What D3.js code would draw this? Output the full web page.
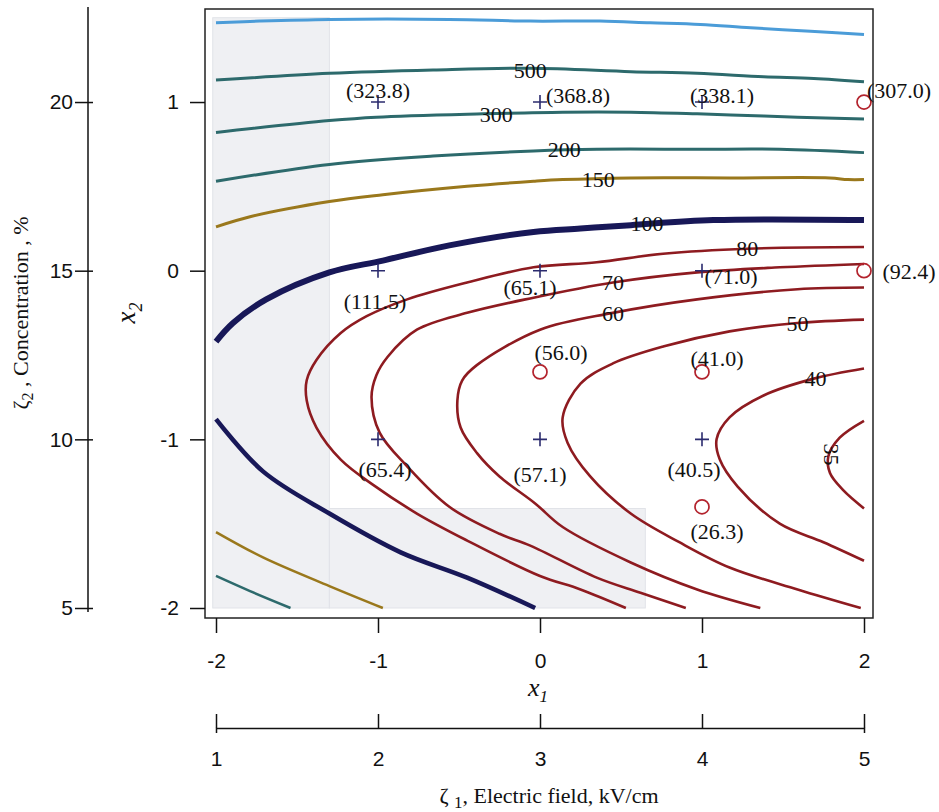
<!DOCTYPE html>
<html>
<head>
<meta charset="utf-8">
<script src="https://cdn.jsdelivr.net/npm/d3@7"></script>
<style>
body { margin: 0; background: #fff; }
svg text { font-family: "Liberation Serif", "Times New Roman", serif; fill: #111; }
</style>
</head>
<body>
<svg id="svg" width="939" height="812"></svg>
<script>
//======================================================================
//                          DATA (coded units x1, x2)
//======================================================================

// contour lines, each one a list of [x1, x2] points
var cTop  = [[-2.00,1.47],[-1.73,1.48],[-1.30,1.49],[-0.56,1.49],[-0.06,1.48],[0.37,1.48],[0.68,1.47],[0.99,1.46],[1.30,1.44],[1.67,1.42],[2.00,1.40]];
var c500  = [[-2.00,1.13],[-1.30,1.17],[-0.66,1.19],[-0.06,1.20],[0.56,1.18],[0.97,1.17],[1.38,1.15],[1.69,1.14],[2.00,1.12]];
var c300  = [[-2.00,0.82],[-1.30,0.89],[-1.01,0.91],[-0.35,0.93],[0.14,0.94],[0.56,0.94],[0.97,0.93],[1.28,0.92],[1.59,0.91],[2.00,0.90]];
var c200  = [[-2.00,0.53],[-1.30,0.63],[-0.66,0.68],[-0.04,0.71],[0.35,0.72],[0.97,0.72],[1.48,0.72],[2.00,0.70]];
var c200b = [[-2.00,-1.81],[-1.79,-1.90],[-1.54,-2.00]];
var c150  = [[-2.00,0.26],[-1.79,0.32],[-1.30,0.41],[-0.97,0.45],[-0.45,0.50],[-0.04,0.53],[0.14,0.54],[0.56,0.55],[1.17,0.55],[1.79,0.55],[1.90,0.54],[2.00,0.54]];
var c150b = [[-2.00,-1.55],[-1.71,-1.70],[-1.30,-1.87],[-0.97,-2.00]];
var c100  = [[-2.00,-0.42],[-1.895,-0.31],[-1.69,-0.17],[-1.30,-0.01],[-0.97,0.06],[-0.56,0.15],[-0.04,0.23],[0.25,0.25],[0.56,0.27],[1.07,0.30],[2.00,0.30]];
var c100b = [[-2.00,-0.88],[-1.71,-1.19],[-1.30,-1.44],[-0.86,-1.67],[-0.45,-1.82],[-0.03,-2.00]];
var c80   = [[0.53,-2.00],[0.25,-1.89],[0.00,-1.81],[-0.45,-1.60],[-0.76,-1.44],[-1.03,-1.27],[-1.23,-1.12],[-1.38,-0.93],[-1.44,-0.77],[-1.44,-0.65],[-1.38,-0.53],[-1.23,-0.37],[-1.07,-0.27],[-0.82,-0.17],[-0.45,-0.07],[-0.04,0.02],[0.35,0.05],[0.76,0.10],[1.28,0.13],[2.00,0.14]];
var c70   = [[0.90,-2.00],[0.62,-1.91],[0.35,-1.82],[-0.06,-1.63],[-0.25,-1.56],[-0.56,-1.40],[-0.82,-1.16],[-0.99,-0.96],[-1.04,-0.75],[-1.01,-0.62],[-0.94,-0.51],[-0.76,-0.35],[-0.45,-0.25],[-0.04,-0.16],[0.45,-0.07],[0.97,-0.01],[1.48,0.02],[2.00,0.04]];
var c60   = [[1.36,-2.00],[0.97,-1.89],[0.56,-1.73],[0.14,-1.52],[-0.03,-1.38],[-0.25,-1.22],[-0.39,-1.08],[-0.49,-0.93],[-0.51,-0.77],[-0.48,-0.65],[-0.39,-0.56],[0.00,-0.35],[0.45,-0.25],[0.97,-0.17],[1.59,-0.11],[2.00,-0.10]];
var c50   = [[1.98,-2.00],[1.59,-1.89],[1.17,-1.76],[0.86,-1.61],[0.56,-1.44],[0.31,-1.22],[0.17,-1.02],[0.14,-0.87],[0.25,-0.67],[0.45,-0.55],[0.76,-0.45],[1.17,-0.36],[1.59,-0.31],[2.00,-0.29]];
var c40   = [[2.00,-1.72],[1.75,-1.61],[1.48,-1.50],[1.22,-1.28],[1.11,-1.12],[1.09,-1.00],[1.17,-0.87],[1.38,-0.74],[1.69,-0.64],[2.00,-0.58]];
var c35   = [[2.00,-1.41],[1.87,-1.30],[1.79,-1.20],[1.78,-1.10],[1.85,-0.99],[2.00,-0.89]];

var contourLevels = [1000, 500, 300, 200, 200, 150, 150, 100, 100, 80, 70, 60, 50, 40, 35];
var contourLines  = [cTop, c500, c300, c200, c200b, c150, c150b, c100, c100b, c80, c70, c60, c50, c40, c35];

// contour labels
var labelText = ["500", "300", "200", "150", "100", "80", "70", "60", "50", "40", "35"];
var labelX1   = [-0.06, -0.27, 0.15, 0.36, 0.66, 1.28, 0.45, 0.45, 1.59, 1.70, 1.80];
var labelX2   = [1.19, 0.93, 0.72, 0.54, 0.28, 0.13, -0.07, -0.25, -0.31, -0.64, -1.09];

// design runs (+) and check runs (o), with measured response
var runX1 = [-1, 0, 1, -1, 0, 1, -1, 0, 1];
var runX2 = [1, 1, 1, 0, 0, 0, -1, -1, -1];
var runY  = [323.8, 368.8, 338.1, 111.5, 65.1, 71.0, 65.4, 57.1, 40.5];
var checkX1 = [2, 2, 0, 1, 1];
var checkX2 = [1, 0, -0.6, -0.6, -1.4];
var checkY  = [307.0, 92.4, 56.0, 41.0, 26.3];

// shaded regions [x1min, x1max, x2min, x2max]
var shadeRegions = [[-2.02, -1.3, -2, 1.5], [-1.3, 0.65, -2, -1.41]];

// axis ticks
var x1Ticks = [-2, -1, 0, 1, 2];
var x2Ticks = [-2, -1, 0, 1];
var zeta1Ticks = [1, 2, 3, 4, 5];
var zeta2Ticks = [5, 10, 15, 20];

//======================================================================
//                          SCALES + STYLE
//======================================================================
var svg = d3.select("#svg");
var x = d3.scaleLinear().domain([-2, 2]).range([216, 864]);
var y = d3.scaleLinear().domain([-2, 1.5]).range([608, 17.7]);
var zeta1 = d3.scaleLinear().domain([1, 5]).range([216, 864]);       // 3 + x1
var zeta2 = d3.scaleLinear().domain([5, 22.5]).range([608, 17.7]);   // 15 + 5*x2

var lineColor = function(level) {
  if (level >= 1000) return "#4b9cd8";
  if (level >= 200) return "#2d6a6c";
  if (level >= 150) return "#9a781c";
  if (level >= 100) return "#181858";
  return "#8e1b20";
};
var lineWidth = function(level, i) {
  if (level == 100) return i == 7 ? 6 : 4.5;
  if (level < 100) return 2.6;
  return (i == 4 || i == 6) ? 2.5 : 3;
};

//======================================================================
//                          DRAWING
//======================================================================
svg.append("clipPath").attr("id", "clip")
  .append("rect").attr("x", 210).attr("y", 12).attr("width", 657).attr("height", 598);

// grey shading
svg.append("g").selectAll("rect").data(shadeRegions).enter().append("rect")
  .attr("x", function(d) { return x(d[0]); })
  .attr("y", function(d) { return y(d[3]); })
  .attr("width", function(d) { return x(d[1]) - x(d[0]); })
  .attr("height", function(d) { return y(d[2]) - y(d[3]); })
  .attr("fill", "#eff0f3")
  .attr("stroke", "#e1e3e8")
  .attr("stroke-width", 1);

// contours
var line = d3.line()
  .x(function(d) { return x(d[0]); })
  .y(function(d) { return y(d[1]); })
  .curve(d3.curveCatmullRom.alpha(0.5));

svg.append("g").attr("clip-path", "url(#clip)")
  .selectAll("path").data(contourLines).enter().append("path")
  .attr("d", line)
  .attr("fill", "none")
  .attr("stroke", function(d, i) { return lineColor(contourLevels[i]); })
  .attr("stroke-width", function(d, i) { return lineWidth(contourLevels[i], i); })
  .attr("stroke-linejoin", "round");

// contour labels
svg.append("g").selectAll("text").data(labelText).enter().append("text")
  .attr("transform", function(d, i) {
    var t = "translate(" + x(labelX1[i]) + "," + y(labelX2[i]) + ")";
    return d == "35" ? t + " rotate(90)" : t;
  })
  .attr("text-anchor", "middle")
  .attr("dy", "0.35em")
  .attr("font-size", 22)
  .text(function(d) { return d; });

// run markers
var fmt = d3.format(".1f");
var runOffset = [[0,-12],[38,-7],[20,-7],[-3,31],[-10,17],[29,6],[7,30],[0,35],[-8,30]];
var checkOffset = [[35,-12],[45,1],[21,-20],[15,-14],[15,24]];

svg.append("g").selectAll("path").data(runY).enter().append("path")
  .attr("transform", function(d, i) { return "translate(" + x(runX1[i]) + "," + y(runX2[i]) + ")"; })
  .attr("d", "M-7,0H7M0,-7V7")
  .attr("stroke", "#2b2b6e")
  .attr("stroke-width", 1.6);

svg.append("g").selectAll("circle").data(checkY).enter().append("circle")
  .attr("cx", function(d, i) { return x(checkX1[i]); })
  .attr("cy", function(d, i) { return y(checkX2[i]); })
  .attr("r", 7)
  .attr("fill", "none")
  .attr("stroke", "#b3232d")
  .attr("stroke-width", 1.7);

svg.append("g").selectAll("text").data(runY).enter().append("text")
  .attr("x", function(d, i) { return x(runX1[i]) + runOffset[i][0]; })
  .attr("y", function(d, i) { return y(runX2[i]) + runOffset[i][1]; })
  .attr("dy", "0.35em")
  .attr("text-anchor", "middle")
  .attr("font-size", 22)
  .text(function(d) { return "(" + fmt(d) + ")"; });

svg.append("g").selectAll("text").data(checkY).enter().append("text")
  .attr("x", function(d, i) { return x(checkX1[i]) + checkOffset[i][0]; })
  .attr("y", function(d, i) { return y(checkX2[i]) + checkOffset[i][1]; })
  .attr("dy", "0.35em")
  .attr("text-anchor", "middle")
  .attr("font-size", 22)
  .text(function(d) { return "(" + fmt(d) + ")"; });

// frame
svg.append("rect")
  .attr("x", 205).attr("y", 9).attr("width", 668).attr("height", 609)
  .attr("fill", "none").attr("stroke", "#222").attr("stroke-width", 1.5);

//======================================================================
//                          AXES
//======================================================================
var styleAxis = function(g) {
  g.attr("font-family", "'Liberation Sans', Arial, sans-serif").attr("font-size", 21);
  g.selectAll("line").attr("stroke", "#111").attr("stroke-width", 1.5);
  g.selectAll("path").attr("stroke", "#111").attr("stroke-width", 1.5);
  g.selectAll("text").style("font-family", "'Liberation Sans', Arial, sans-serif").attr("fill", "#111");
};
var plain = function(d) { return String(d); };

svg.append("g").attr("transform", "translate(205,0)")
  .call(d3.axisLeft(y).tickValues(x2Ticks).tickSize(15).tickPadding(11).tickFormat(plain))
  .call(function(g) { g.select(".domain").remove(); })
  .call(styleAxis);

svg.append("g").attr("transform", "translate(0,618)")
  .call(d3.axisBottom(x).tickValues(x1Ticks).tickSize(15).tickPadding(20).tickFormat(plain))
  .call(function(g) { g.select(".domain").remove(); })
  .call(styleAxis);

// secondary axis: concentration
svg.append("g").attr("transform", "translate(88,0)")
  .call(d3.axisLeft(zeta2).tickValues(zeta2Ticks).tickSize(13).tickPadding(2).tickFormat(plain))
  .call(function(g) {
    g.select(".domain").remove();
    g.selectAll(".tick line").attr("x1", 5);
    g.append("line").attr("x1", 0).attr("x2", 0).attr("y1", 7).attr("y2", 612);
  })
  .call(styleAxis);

// secondary axis: electric field
svg.append("g").attr("transform", "translate(0,728)")
  .call(d3.axisBottom(zeta1).tickValues(zeta1Ticks).tickSize(-14).tickSizeOuter(5).tickPadding(23).tickFormat(plain))
  .call(styleAxis);

// axis titles
var t1 = svg.append("text").attr("x", 538).attr("y", 696).attr("text-anchor", "middle")
  .attr("font-size", 26).attr("font-style", "italic").text("x");
t1.append("tspan").attr("dy", 6).attr("font-size", 17).text("1");

var t2 = svg.append("text").attr("transform", "translate(135,313) rotate(-90)").attr("text-anchor", "middle")
  .attr("font-size", 27).attr("font-style", "italic").text("x");
t2.append("tspan").attr("dy", 7).attr("font-size", 18).text("2");

var t3 = svg.append("text").attr("transform", "translate(28,313) rotate(-90)").attr("text-anchor", "middle")
  .attr("font-size", 22).text("ζ");
t3.append("tspan").attr("dy", 5).attr("font-size", 16).text("2");
t3.append("tspan").attr("dy", -5).text(" , Concentration , %");

var t4 = svg.append("text").attr("x", 549).attr("y", 803).attr("text-anchor", "middle")
  .attr("font-size", 22).text("ζ ");
t4.append("tspan").attr("dy", 5).attr("font-size", 17).text("1");
t4.append("tspan").attr("dy", -5).text(", Electric field, kV/cm");
</script>
</body>
</html>
